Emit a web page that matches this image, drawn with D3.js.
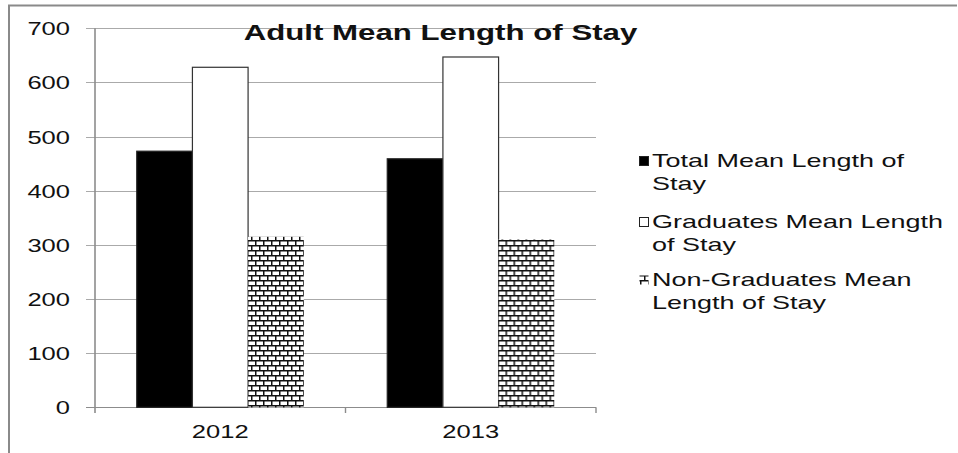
<!DOCTYPE html>
<html>
<head>
<meta charset="utf-8">
<script src="https://cdn.jsdelivr.net/npm/d3@7"></script>
<style>
  html, body { margin: 0; padding: 0; background: #fff; }
  svg { display: block; font-family: "Liberation Sans", Arial, sans-serif; }
</style>
</head>
<body>
<svg id="chart" width="958" height="453"></svg>
<script>
// Adult mean length of stay (days), by year
const years = ["2012", "2013"];
const seriesNames = [
  "Total Mean Length of Stay",
  "Graduates Mean Length of Stay",
  "Non-Graduates Mean Length of Stay"
];
const totalMean = [473, 459];
const graduatesMean = [628, 647];
const nonGraduatesMean = [315, 310];
const yTicks = [0, 100, 200, 300, 400, 500, 600, 700];
const legendLines = [
  ["Total Mean Length of", "Stay"],
  ["Graduates Mean Length", "of Stay"],
  ["Non-Graduates Mean", "Length of Stay"]
];

const seriesValues = [totalMean, graduatesMean, nonGraduatesMean];
const svg = d3.select("#chart");
const SX = 1.42; // horizontal text stretch

// brick fill for the non-graduates series
const defs = svg.append("defs");
const brick = defs.append("pattern")
  .attr("id", "brick")
  .attr("patternUnits", "userSpaceOnUse")
  .attr("width", 8).attr("height", 10);
brick.append("rect").attr("width", 8).attr("height", 10).attr("fill", "#fff");
brick.append("path")
  .attr("d", "M0,0.75H8M0,5.75H8M0.75,0V5.75M4.75,5.75V10")
  .attr("stroke", "#111").attr("stroke-width", 1.5).attr("fill", "none");

const fills = ["#000", "#fff", "url(#brick)"];
const strokes = ["#222", "#333", "none"];

// outer frame (top and left edges)
svg.append("path")
  .attr("d", "M9,453V5.5H957")
  .attr("fill", "none").attr("stroke", "#8a8a8a").attr("stroke-width", 2);

const plotLeft = 95, plotRight = 596, plotTop = 28.3, plotBottom = 407.3;

const y = d3.scaleLinear().domain([0, 700]).range([plotBottom, plotTop]);
const x0 = d3.scaleBand().domain(years).range([plotLeft, plotRight]).padding(0);
const x1 = d3.scaleBand().domain(d3.range(seriesNames.length))
  .range([0, x0.bandwidth()]).paddingInner(0).paddingOuter(0.75);

// horizontal gridlines
svg.append("g").selectAll("line").data(yTicks).join("line")
  .attr("x1", 86).attr("x2", plotRight)
  .attr("y1", d => Math.round(y(d)) + 0.5).attr("y2", d => Math.round(y(d)) + 0.5)
  .attr("stroke", d => d === 0 ? "#8c8c8c" : "#aaaaaa").attr("stroke-width", 1);

// y-axis labels
const yAxis = svg.append("g")
  .attr("transform", `translate(${plotLeft},0)`)
  .call(d3.axisLeft(y).tickValues(yTicks).tickSize(0).tickPadding(0));
yAxis.select(".domain").remove();
yAxis.selectAll("text")
  .attr("x", -25 / SX).attr("dy", "0.36em")
  .attr("transform", `scale(${SX},1)`)
  .attr("font-size", 18).attr("fill", "#111")
  .attr("font-family", "Liberation Sans, Arial, sans-serif");

// bars
const groups = svg.append("g").selectAll("g").data(years).join("g")
  .attr("transform", d => `translate(${x0(d)},0)`);
groups.selectAll("rect")
  .data((yr, i) => seriesValues.map((vals, s) => ({ s, v: vals[i] })))
  .join("rect")
  .attr("x", d => x1(d.s))
  .attr("width", x1.bandwidth())
  .attr("y", d => y(d.v))
  .attr("height", d => y(0) - y(d.v))
  .attr("fill", d => fills[d.s])
  .attr("stroke", d => strokes[d.s])
  .attr("stroke-width", 1.2);

// y axis line
svg.append("line")
  .attr("x1", plotLeft).attr("x2", plotLeft).attr("y1", plotTop).attr("y2", 413)
  .attr("stroke", "#8c8c8c").attr("stroke-width", 1.6);

// category boundary ticks
const bounds = years.map(d => x0(d)).concat([plotRight]);
svg.append("g").selectAll("line").data(bounds.slice(1)).join("line")
  .attr("x1", d => d).attr("x2", d => d)
  .attr("y1", plotBottom).attr("y2", 413)
  .attr("stroke", "#8c8c8c").attr("stroke-width", 1.4);

// category labels
const xAxis = svg.append("g")
  .attr("transform", `translate(0,${plotBottom})`)
  .call(d3.axisBottom(x0).tickSize(0).tickPadding(0));
xAxis.select(".domain").remove();
xAxis.selectAll("text")
  .attr("x", 0).attr("y", 31).attr("dy", 0)
  .attr("transform", `scale(${SX},1)`)
  .attr("font-size", 18).attr("fill", "#111")
  .attr("font-family", "Liberation Sans, Arial, sans-serif");

// title
svg.append("text")
  .attr("transform", `translate(440.5,39.5) scale(${SX},1)`)
  .attr("text-anchor", "middle")
  .attr("font-size", 22).attr("font-weight", "bold").attr("fill", "#111")
  .text("Adult Mean Length of Stay");

// legend
const legendBase = [167, 228, 286];
const legend = svg.append("g").selectAll("g").data(seriesNames).join("g");
legend.append("rect")
  .attr("x", 639.5).attr("y", (d, i) => legendBase[i] - 10.5)
  .attr("width", 9).attr("height", 9)
  .attr("fill", (d, i) => fills[i])
  .attr("stroke", (d, i) => i === 2 ? "none" : "#222")
  .attr("stroke-width", 1);
legend.each(function (d, i) {
  const g = d3.select(this);
  legendLines[i].forEach((line, j) => {
    g.append("text")
      .attr("transform", `translate(652,${legendBase[i] + j * 22.5}) scale(${SX},1)`)
      .attr("font-size", 19).attr("fill", "#111")
      .text(line);
  });
});
</script>
</body>
</html>
